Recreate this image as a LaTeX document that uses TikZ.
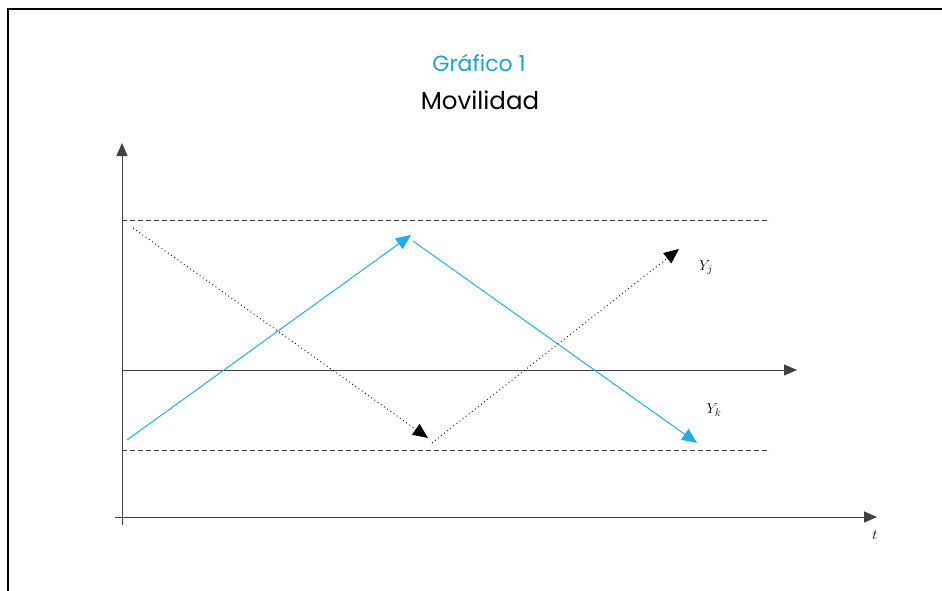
\documentclass[tikz,border=0pt]{standalone}
\usepackage{fontspec}
\newfontfamily\titlefont{Poppins}
\usetikzlibrary{arrows.meta}
\definecolor{cyanline}{HTML}{1FAEE6}
\definecolor{titlecyan}{HTML}{1AA3D2}
\begin{document}
\begin{tikzpicture}[x=1pt,y=-1pt,
  axis/.style={draw=black!75,line width=1pt,-{Triangle[length=13pt,width=11pt]}},
  guide/.style={draw=black!75,line width=0.9pt,dash pattern=on 5pt off 3pt},
  cyanarrow/.style={draw=cyanline,line width=1pt,-{Triangle[length=15pt,width=13pt]}},
  dotarrow/.style={draw=black,line width=0.9pt,dash pattern=on 0.9pt off 3pt,-{Triangle[length=15pt,width=13pt]}},
  lbl/.style={font=\fontsize{15}{15}\selectfont\itshape,inner sep=0pt}]
\useasboundingbox (0,0) rectangle (942,591);
% frame
\draw[line width=1.8pt] (8,591) -- (8,9) -- (942,9);
% titles
\node[text=titlecyan,font=\titlefont\fontsize{22}{22}\selectfont] (t1) at (479,63) {Gráfico 1};
\node[font=\titlefont\fontsize{24.5}{24.5}\selectfont] (t2) at (480,100) {Movilidad};
% axes
\coordinate (yb) at (122,525);
\coordinate (yt) at (122,143);
\coordinate (xl) at (115,517);
\coordinate (xr) at (877,517);
\coordinate (ml) at (122,370);
\coordinate (mr) at (797,370);
\draw[axis] (yb) -- (yt);
\draw[axis] (xl) -- (xr);
\draw[axis] (ml) -- (mr);
% dashed guides
\coordinate (ul) at (122,220);
\coordinate (ur) at (770,220);
\coordinate (ll) at (122,450);
\coordinate (lr) at (770,450);
\draw[guide] (ul) -- (ur);
\draw[guide] (ll) -- (lr);
% cyan path
\coordinate (c0) at (127,440);
\coordinate (c1) at (411,235);
\coordinate (c2) at (413,241);
\coordinate (c3) at (697,443);
\draw[cyanarrow] (c0) -- (c1);
\draw[cyanarrow] (c2) -- (c3);
% dotted path
\coordinate (d0) at (133,228);
\coordinate (d1) at (428,438);
\coordinate (d2) at (432,443);
\coordinate (d3) at (679,249);
\draw[dotarrow] (d0) -- (d1);
\draw[dotarrow] (d2) -- (d3);
% labels
\node[lbl] (yj) at (706,268) {$Y_{j}$};
\node[lbl] (yk) at (714,410) {$Y_{k}$};
\node[lbl] (tt) at (875,535) {$t$};
\end{tikzpicture}
\end{document}
